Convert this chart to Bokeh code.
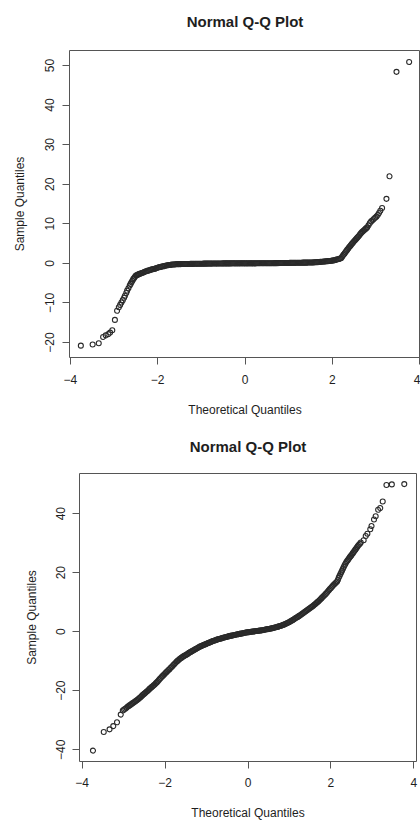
from bokeh.plotting import figure
from bokeh.layouts import column
from bokeh.models import FixedTicker, Range1d, Title
from bokeh.embed import file_html
from bokeh.resources import INLINE

TITLE = "Normal Q-Q Plot"
XLABEL = "Theoretical Quantiles"
YLABEL = "Sample Quantiles"
X_TICKS = [-4, -2, 0, 2, 4]
Y_TICKS_TOP = [-20, -10, 0, 10, 20, 30, 40, 50]
Y_TICKS_BOTTOM = [-40, -20, 0, 20, 40]

# ---- top Q-Q plot: theoretical quantiles / sample quantiles
top_x = [
    -3.76, -3.49, -3.35, -3.25, -3.19, -3.13, -3.09, -3.04, -2.98, -2.93,
    -2.89, -2.86, -2.83, -2.80, -2.77, -2.75, -2.72, -2.70, -2.67, -2.64,
    -2.62, -2.60, -2.58, -2.56, -2.54, -2.52, -2.50, -2.48, -2.46, -2.44,
    -2.425, -2.400, -2.375, -2.350, -2.325, -2.300, -2.275, -2.250, -2.225, -2.200,
    -2.175, -2.150, -2.125, -2.100, -2.075, -2.050, -2.025, -2.000, -1.975, -1.950,
    -1.925, -1.900, -1.875, -1.850, -1.825, -1.800, -1.775, -1.750, -1.725, -1.700,
    -1.675, -1.650, -1.625, -1.600, -1.575, -1.550, -1.525, -1.500, -1.475, -1.450,
    -1.425, -1.400, -1.375, -1.350, -1.325, -1.300, -1.275, -1.250, -1.225, -1.200,
    -1.175, -1.150, -1.125, -1.100, -1.075, -1.050, -1.025, -1.000, -0.975, -0.950,
    -0.925, -0.900, -0.875, -0.850, -0.825, -0.800, -0.775, -0.750, -0.725, -0.700,
    -0.675, -0.650, -0.625, -0.600, -0.575, -0.550, -0.525, -0.500, -0.475, -0.450,
    -0.425, -0.400, -0.375, -0.350, -0.325, -0.300, -0.275, -0.250, -0.225, -0.200,
    -0.175, -0.150, -0.125, -0.100, -0.075, -0.050, -0.025, 0.000, 0.025, 0.050,
    0.075, 0.100, 0.125, 0.150, 0.175, 0.200, 0.225, 0.250, 0.275, 0.300,
    0.325, 0.350, 0.375, 0.400, 0.425, 0.450, 0.475, 0.500, 0.525, 0.550,
    0.575, 0.600, 0.625, 0.650, 0.675, 0.700, 0.725, 0.750, 0.775, 0.800,
    0.825, 0.850, 0.875, 0.900, 0.925, 0.950, 0.975, 1.000, 1.025, 1.050,
    1.075, 1.100, 1.125, 1.150, 1.175, 1.200, 1.225, 1.250, 1.275, 1.300,
    1.325, 1.350, 1.375, 1.400, 1.425, 1.450, 1.475, 1.500, 1.525, 1.550,
    1.575, 1.600, 1.625, 1.650, 1.675, 1.700, 1.725, 1.750, 1.775, 1.800,
    1.825, 1.850, 1.875, 1.900, 1.925, 1.950, 1.975, 2.000, 2.025, 2.050,
    2.075, 2.100, 2.125, 2.150, 2.175, 2.200, 2.220, 2.240, 2.260, 2.280,
    2.300, 2.320, 2.340, 2.360, 2.380, 2.400, 2.420, 2.440, 2.460, 2.480,
    2.500, 2.520, 2.540, 2.560, 2.580, 2.600, 2.620, 2.640, 2.660, 2.680,
    2.700, 2.720, 2.740, 2.760, 2.780, 2.800, 2.830, 2.860, 2.890, 2.920,
    2.950, 2.980, 3.010, 3.040, 3.070, 3.100, 3.140, 3.240, 3.310, 3.470,
    3.760,
]
top_y = [
    -20.8, -20.5, -20.2, -18.6, -18.2, -17.9, -17.5, -16.9, -14.3, -12.0,
    -11.1, -10.5, -9.9, -9.3, -8.7, -8.2, -7.5, -6.9, -6.3, -5.6,
    -5.2, -4.8, -4.4, -4.0, -3.7, -3.4, -3.1, -3.0, -2.9, -2.8,
    -2.7, -2.6, -2.5, -2.4, -2.3, -2.15, -2.05, -1.95, -1.85, -1.8,
    -1.7, -1.6, -1.5, -1.45, -1.4, -1.3, -1.2, -1.1, -1.0, -0.95,
    -0.9, -0.8, -0.75, -0.7, -0.6, -0.55, -0.5, -0.45, -0.4, -0.35,
    -0.32, -0.3, -0.28, -0.25, -0.23, -0.21, -0.2, -0.2, -0.19, -0.18,
    -0.18, -0.17, -0.17, -0.16, -0.16, -0.15, -0.15, -0.14, -0.14, -0.13,
    -0.13, -0.12, -0.12, -0.11, -0.11, -0.1, -0.1, -0.09, -0.09, -0.08,
    -0.08, -0.08, -0.07, -0.07, -0.06, -0.06, -0.06, -0.05, -0.05, -0.05,
    -0.04, -0.04, -0.04, -0.03, -0.03, -0.03, -0.03, -0.02, -0.02, -0.02,
    -0.02, -0.01, -0.01, -0.01, -0.01, 0.0, 0.0, 0.0, 0.0, 0.0,
    0.0, 0.0, 0.0, 0.0, 0.0, 0.0, 0.0, 0.0, 0.0, 0.0,
    0.0, 0.0, 0.0, 0.0, 0.0, 0.0, 0.0, 0.0, 0.01, 0.01,
    0.01, 0.01, 0.01, 0.02, 0.02, 0.02, 0.02, 0.03, 0.03, 0.03,
    0.03, 0.04, 0.04, 0.04, 0.05, 0.05, 0.05, 0.06, 0.06, 0.07,
    0.07, 0.08, 0.08, 0.08, 0.09, 0.09, 0.1, 0.1, 0.11, 0.11,
    0.12, 0.12, 0.13, 0.13, 0.14, 0.14, 0.15, 0.15, 0.16, 0.16,
    0.17, 0.17, 0.18, 0.18, 0.19, 0.2, 0.2, 0.21, 0.22, 0.23,
    0.24, 0.26, 0.28, 0.3, 0.32, 0.35, 0.37, 0.4, 0.42, 0.45,
    0.48, 0.5, 0.52, 0.55, 0.58, 0.6, 0.65, 0.7, 0.75, 0.8,
    0.88, 0.95, 1.02, 1.1, 1.2, 1.3, 1.6, 1.9, 2.2, 2.5,
    2.8, 3.1, 3.4, 3.7, 4.0, 4.25, 4.5, 4.8, 5.05, 5.3,
    5.6, 5.85, 6.1, 6.35, 6.6, 6.8, 7.1, 7.4, 7.65, 7.9,
    8.1, 8.3, 8.5, 8.7, 8.9, 9.1, 9.6, 10.2, 10.6, 10.9,
    11.2, 11.5, 11.8, 12.2, 12.7, 13.3, 14.0, 16.3, 22.0, 48.4,
    50.9,
]

# ---- bottom Q-Q plot
bot_x = [
    -3.74, -3.48, -3.34, -3.25, -3.16, -3.07, -3.02, -2.99, -2.96, -2.93,
    -2.900, -2.875, -2.850, -2.825, -2.800, -2.775, -2.750, -2.725, -2.700, -2.675,
    -2.650, -2.625, -2.600, -2.575, -2.550, -2.525, -2.500, -2.475, -2.450, -2.425,
    -2.400, -2.375, -2.350, -2.325, -2.300, -2.275, -2.250, -2.225, -2.200, -2.175,
    -2.150, -2.125, -2.100, -2.075, -2.050, -2.025, -2.000, -1.975, -1.950, -1.925,
    -1.900, -1.875, -1.850, -1.825, -1.800, -1.775, -1.750, -1.725, -1.700, -1.675,
    -1.650, -1.625, -1.600, -1.575, -1.550, -1.525, -1.500, -1.475, -1.450, -1.425,
    -1.400, -1.375, -1.350, -1.325, -1.300, -1.275, -1.250, -1.225, -1.200, -1.175,
    -1.150, -1.125, -1.100, -1.075, -1.050, -1.025, -1.000, -0.975, -0.950, -0.925,
    -0.900, -0.875, -0.850, -0.825, -0.800, -0.775, -0.750, -0.725, -0.700, -0.675,
    -0.650, -0.625, -0.600, -0.575, -0.550, -0.525, -0.500, -0.475, -0.450, -0.425,
    -0.400, -0.375, -0.350, -0.325, -0.300, -0.275, -0.250, -0.225, -0.200, -0.175,
    -0.150, -0.125, -0.100, -0.075, -0.050, -0.025, 0.000, 0.025, 0.050, 0.075,
    0.100, 0.125, 0.150, 0.175, 0.200, 0.225, 0.250, 0.275, 0.300, 0.325,
    0.350, 0.375, 0.400, 0.425, 0.450, 0.475, 0.500, 0.525, 0.550, 0.575,
    0.600, 0.625, 0.650, 0.675, 0.700, 0.725, 0.750, 0.775, 0.800, 0.825,
    0.850, 0.875, 0.900, 0.925, 0.950, 0.975, 1.000, 1.025, 1.050, 1.075,
    1.100, 1.125, 1.150, 1.175, 1.200, 1.225, 1.250, 1.275, 1.300, 1.325,
    1.350, 1.375, 1.400, 1.425, 1.450, 1.475, 1.500, 1.525, 1.550, 1.575,
    1.600, 1.625, 1.650, 1.675, 1.700, 1.725, 1.750, 1.775, 1.800, 1.825,
    1.850, 1.875, 1.900, 1.925, 1.950, 1.975, 2.000, 2.025, 2.050, 2.075,
    2.100, 2.125, 2.150, 2.170, 2.190, 2.210, 2.230, 2.250, 2.270, 2.290,
    2.310, 2.330, 2.350, 2.370, 2.390, 2.410, 2.430, 2.450, 2.470, 2.490,
    2.510, 2.530, 2.550, 2.570, 2.590, 2.610, 2.630, 2.650, 2.675, 2.700,
    2.72, 2.79, 2.84, 2.88, 2.95, 2.98, 3.04, 3.08, 3.14, 3.19,
    3.25, 3.34, 3.47, 3.77,
]
bot_y = [
    -40.3, -34.0, -33.1, -32.0, -30.7, -28.1, -26.7, -26.4, -26.1, -25.8,
    -25.4, -25.2, -24.9, -24.7, -24.4, -24.2, -23.9, -23.7, -23.4, -23.2,
    -22.9, -22.6, -22.3, -22.0, -21.6, -21.3, -21.0, -20.7, -20.4, -20.1,
    -19.8, -19.4, -19.1, -18.8, -18.5, -18.2, -17.9, -17.5, -17.2, -16.8,
    -16.4, -16.0, -15.6, -15.2, -14.9, -14.5, -14.2, -13.8, -13.5, -13.1,
    -12.8, -12.4, -12.1, -11.7, -11.3, -11.0, -10.6, -10.2, -9.9, -9.6,
    -9.3, -9.0, -8.8, -8.5, -8.3, -8.1, -7.9, -7.7, -7.5, -7.2,
    -7.0, -6.8, -6.6, -6.4, -6.2, -6.0, -5.8, -5.6, -5.4, -5.2,
    -5.0, -4.85, -4.7, -4.55, -4.4, -4.25, -4.1, -3.95, -3.8, -3.65,
    -3.5, -3.35, -3.2, -3.1, -3.0, -2.85, -2.7, -2.6, -2.5, -2.4,
    -2.3, -2.2, -2.1, -2.0, -1.9, -1.8, -1.7, -1.6, -1.5, -1.43,
    -1.35, -1.28, -1.2, -1.13, -1.05, -0.98, -0.9, -0.83, -0.75, -0.68,
    -0.6, -0.53, -0.45, -0.38, -0.3, -0.25, -0.2, -0.15, -0.1, -0.05,
    0.0, 0.05, 0.1, 0.15, 0.2, 0.25, 0.3, 0.35, 0.4, 0.45,
    0.5, 0.58, 0.65, 0.73, 0.8, 0.85, 0.9, 0.98, 1.05, 1.13,
    1.2, 1.3, 1.4, 1.5, 1.6, 1.7, 1.8, 1.9, 2.0, 2.15,
    2.3, 2.45, 2.6, 2.78, 2.95, 3.13, 3.3, 3.5, 3.7, 3.9,
    4.1, 4.35, 4.6, 4.8, 5.0, 5.25, 5.5, 5.75, 6.0, 6.25,
    6.5, 6.75, 7.0, 7.25, 7.5, 7.75, 8.0, 8.25, 8.5, 8.8,
    9.1, 9.4, 9.7, 10.0, 10.3, 10.65, 11.0, 11.35, 11.7, 12.05,
    12.4, 12.8, 13.2, 13.6, 14.0, 14.4, 14.8, 15.2, 15.6, 15.95,
    16.3, 16.65, 17.0, 17.6, 18.3, 18.9, 19.5, 20.1, 20.7, 21.3,
    21.9, 22.5, 23.0, 23.5, 23.9, 24.3, 24.7, 25.1, 25.5, 25.8,
    26.2, 26.6, 27.0, 27.4, 27.8, 28.2, 28.6, 29.0, 29.4, 29.8,
    30.2, 31.0, 32.4, 33.2, 34.7, 35.8, 38.0, 39.1, 41.3, 41.9,
    44.1, 49.7, 49.9, 50.0,
]

assert len(top_x) == len(top_y) and len(bot_x) == len(bot_y)

FONT = "Liberation Sans"
LINE = "#555555"
TEXT = "#1e1e1e"


def qq_figure(xs, ys, yticks, xr, yr, width, height, mbl, mbr, mbt, mbb,
              title_gap, x_std, xl_std, y_std_free, y_std_aligned, yl_std):
    p = figure(width=width, height=height, output_backend="svg",
               toolbar_location=None, x_range=Range1d(*xr), y_range=Range1d(*yr),
               min_border_left=mbl, min_border_right=mbr,
               min_border_top=mbt, min_border_bottom=mbb, title=None)
    # each plot keeps its own frame (no frame alignment inside the column)
    try:
        p.frame_align = False
        free = True
    except Exception:
        free = False
    p.grid.visible = False
    p.outline_line_color = LINE
    p.outline_line_width = 1
    p.background_fill_color = "white"
    p.border_fill_color = "white"

    p.xaxis.ticker = FixedTicker(ticks=X_TICKS)
    p.yaxis.ticker = FixedTicker(ticks=yticks)
    p.xaxis.bounds = (X_TICKS[0], X_TICKS[-1])
    p.yaxis.bounds = (yticks[0], yticks[-1])
    p.xaxis.axis_label = XLABEL
    p.yaxis.axis_label = YLABEL
    p.yaxis.major_label_orientation = "vertical"
    for ax in (p.xaxis, p.yaxis):
        ax.axis_line_color = LINE
        ax.major_tick_line_color = LINE
        ax.major_tick_in = 0
        ax.major_tick_out = 7
        ax.minor_tick_line_color = None
        ax.major_label_text_font = FONT
        ax.major_label_text_font_size = "12px"
        ax.major_label_text_color = TEXT
        ax.axis_label_text_font = FONT
        ax.axis_label_text_font_size = "12px"
        ax.axis_label_text_font_style = "normal"
        ax.axis_label_text_color = TEXT
    p.xaxis.major_label_standoff = x_std
    p.xaxis.axis_label_standoff = xl_std
    p.yaxis.major_label_standoff = y_std_free if free else y_std_aligned
    p.yaxis.axis_label_standoff = yl_std

    # thin empty spacer next to the frame, then the bold title above it
    p.add_layout(Title(text=" ", text_font_size="1px", standoff=title_gap),
                 "above")
    p.add_layout(Title(text=TITLE, align="center", vertical_align="middle",
                       standoff=0, text_font=FONT, text_font_size="15px",
                       text_font_style="bold", text_color=TEXT), "above")

    p.scatter(xs, ys, marker="circle", size=5, fill_color=None,
              line_color="#2a2a2a", line_width=1.1)
    return p


p1 = qq_figure(top_x, top_y, Y_TICKS_TOP, (-4.02, 4.02), (-23.8, 53.8),
               420, 420, 69, 0, 50, 63, 17, 10, 16, 8, 21, 16)
p2 = qq_figure(bot_x, bot_y, Y_TICKS_BOTTOM, (-4.065, 4.065), (-44.0, 53.6),
               420, 402, 79, 4, 53, 56, 15, 9, 16, 7, 9, 15)

layout = column(p1, p2, spacing=0)
open("out.html", "w").write(file_html(layout, INLINE))
